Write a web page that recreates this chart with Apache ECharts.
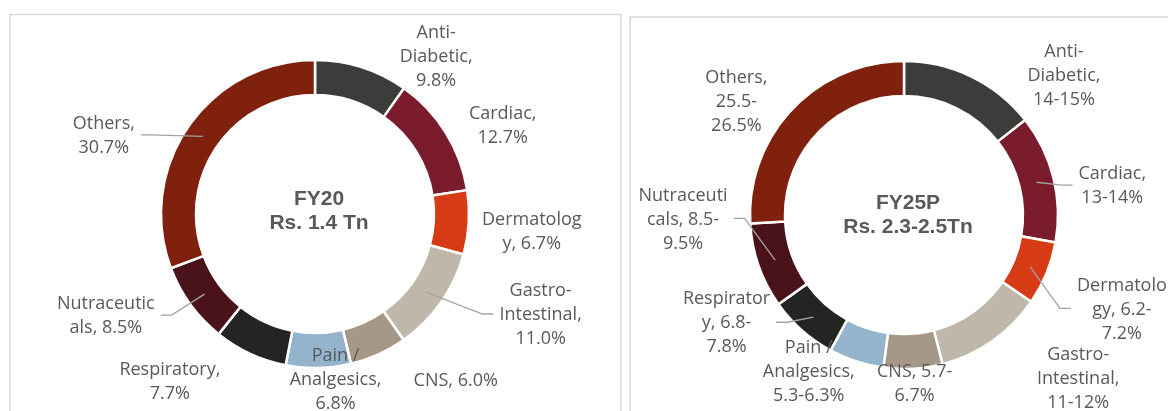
<!DOCTYPE html>
<html>
<head>
<meta charset="utf-8">
<script src="https://cdn.jsdelivr.net/npm/echarts@6/dist/echarts.min.js"></script>
<style>
  html, body { margin: 0; padding: 0; background: #fff; }
  #chart-container { width: 1168px; height: 411px; }
</style>
</head>
<body>
<div id="chart-container"></div>
<script>
var dom = document.getElementById('chart-container');
var myChart = echarts.init(dom);

// categories, clockwise from the top
var categories = ['Anti-Diabetic', 'Cardiac', 'Dermatology', 'Gastro-Intestinal', 'CNS',
  'Pain / Analgesics', 'Respiratory', 'Nutraceuticals', 'Others'];

// FY20 shares (%)
var fy20Values = [9.8, 12.7, 6.7, 11.0, 6.0, 6.8, 7.7, 8.5, 30.7];
var fy20Labels = ['Anti-\nDiabetic,\n9.8%', 'Cardiac,\n12.7%', 'Dermatolog\ny, 6.7%',
  'Gastro-\nIntestinal,\n11.0%', 'CNS, 6.0%', 'Pain /\nAnalgesics,\n6.8%',
  'Respiratory,\n7.7%', 'Nutraceutic\nals, 8.5%', 'Others,\n30.7%'];

// FY25P share ranges (%)
var fy25Low = [14, 13, 6.2, 11, 5.7, 5.3, 6.8, 8.5, 25.5];
var fy25High = [15, 14, 7.2, 12, 6.7, 6.3, 7.8, 9.5, 26.5];
var fy25Labels = ['Anti-\nDiabetic,\n14-15%', 'Cardiac,\n13-14%', 'Dermatolo\ngy, 6.2-\n7.2%',
  'Gastro-\nIntestinal,\n11-12%', 'CNS, 5.7-\n6.7%', 'Pain /\nAnalgesics,\n5.3-6.3%',
  'Respirator\ny, 6.8-\n7.8%', 'Nutraceuti\ncals, 8.5-\n9.5%', 'Others,\n25.5-\n26.5%'];

var colors = ['#3c3c3a', '#7a1c2b', '#d63b16', '#bfb7aa', '#a69886',
  '#94b3cd', '#242422', '#4a1219', '#80210e'];

// which labels have a leader line in the original
var fy20Lines = [false, false, false, true, false, false, false, true, true];
var fy25Lines = [false, true, true, false, false, false, true, true, false];

// hand-placed label nudges (the original labels were dragged around)
var fy20Nudge = [[-8, -3], [-30, -3], [-25, 9], [13, 8], [-6, 19], [-63, 4], [3, 21], [2, 7], [2, 14]];
var fy25Nudge = [[9, 7], [-29, 10], [-12, 33], [1, 31], [-79, 7], [35, 3], [10, -13], [12, -49], [30, -2]];

var fy25Mid = fy25Low.map(function (lo, i) {
  return (lo + fy25High[i]) / 2;
});

var R_IN = 119, R_OUT = 154;

// mid angle (radians, clockwise from 12 o'clock) of every slice
function midAngles(values) {
  var total = values.reduce(function (a, b) { return a + b; }, 0);
  var acc = 0;
  return values.map(function (v) {
    var m = (acc + v / 2) / total * Math.PI * 2;
    acc += v;
    return m;
  });
}

// the coloured ring, no labels
function ringSeries(center, values) {
  return {
    type: 'pie',
    center: center,
    radius: [R_IN, R_OUT],
    startAngle: 90,
    clockwise: true,
    silent: true,
    itemStyle: { borderColor: '#fff', borderWidth: 2.5 },
    label: { show: false },
    labelLine: { show: false },
    emphasis: { disabled: true },
    animation: false,
    data: values.map(function (v, i) {
      return { name: categories[i], value: v, itemStyle: { color: colors[i] } };
    })
  };
}

// same slices again, see-through, on top: carries the labels and leader lines
function labelSeries(center, values, labels, lines, nudge) {
  var mids = midAngles(values);
  return {
    type: 'pie',
    z: 3,
    center: center,
    radius: [R_IN, R_OUT],
    startAngle: 90,
    clockwise: true,
    silent: true,
    avoidLabelOverlap: false,
    itemStyle: { color: 'rgba(0,0,0,0)', borderWidth: 0 },
    label: {
      show: true,
      position: 'outside',
      color: '#595959',
      fontFamily: 'Open Sans',
      fontSize: 18,
      lineHeight: 24
    },
    labelLine: {
      showAbove: true,
      length: 8,
      length2: 10,
      lineStyle: { color: '#a3a3a3', width: 1.3 }
    },
    labelLayout: function (params) {
      var i = params.dataIndex;
      var r = params.labelRect;
      var left = params.align === 'left';
      var anchor = left ? r.x : r.x + r.width;
      var x = anchor + (left ? 65 : -65) + nudge[i][0];
      var y = r.y + r.height / 2 + nudge[i][1];
      var a = mids[i];
      var rm = (R_IN + R_OUT) / 2;
      var p1 = [center[0] + rm * Math.sin(a), center[1] - rm * Math.cos(a)];
      var right = x > center[0];
      var edge = right ? x - r.width / 2 - 6 : x + r.width / 2 + 6;
      var p3 = [edge, y - 1];
      var p2 = [edge + (right ? -11 : 11), y - 1];
      return {
        x: x,
        y: y,
        align: 'center',
        verticalAlign: 'middle',
        labelLinePoints: [p1, p2, p3]
      };
    },
    emphasis: { disabled: true },
    animation: false,
    data: values.map(function (v, i) {
      return {
        name: categories[i],
        value: v,
        label: { formatter: labels[i] },
        labelLine: { show: lines[i] }
      };
    })
  };
}

myChart.setOption({
  backgroundColor: '#ffffff',
  graphic: [
    {
      type: 'rect',
      shape: { x: 10, y: 14.5, width: 611, height: 420 },
      style: { fill: 'none', stroke: '#d9d9d9', lineWidth: 1.5 },
      silent: true
    },
    {
      type: 'rect',
      shape: { x: 630, y: 17, width: 600, height: 420 },
      style: { fill: 'none', stroke: '#d9d9d9', lineWidth: 1.5 },
      silent: true
    },
    {
      type: 'text',
      x: 319,
      y: 211,
      style: {
        text: 'FY20\nRs. 1.4 Tn',
        fill: '#595959',
        font: 'bold 21px "Liberation Sans", Arial',
        lineHeight: 24,
        textAlign: 'center',
        textVerticalAlign: 'middle'
      },
      silent: true
    },
    {
      type: 'text',
      x: 908,
      y: 215,
      style: {
        text: 'FY25P\nRs. 2.3-2.5Tn',
        fill: '#595959',
        font: 'bold 21px "Liberation Sans", Arial',
        lineHeight: 24,
        textAlign: 'center',
        textVerticalAlign: 'middle'
      },
      silent: true
    }
  ],
  series: [
    ringSeries([315, 214], fy20Values),
    ringSeries([904, 215], fy25Mid),
    labelSeries([315, 214], fy20Values, fy20Labels, fy20Lines, fy20Nudge),
    labelSeries([904, 215], fy25Mid, fy25Labels, fy25Lines, fy25Nudge)
  ]
});

window.addEventListener('resize', myChart.resize);
</script>
</body>
</html>
